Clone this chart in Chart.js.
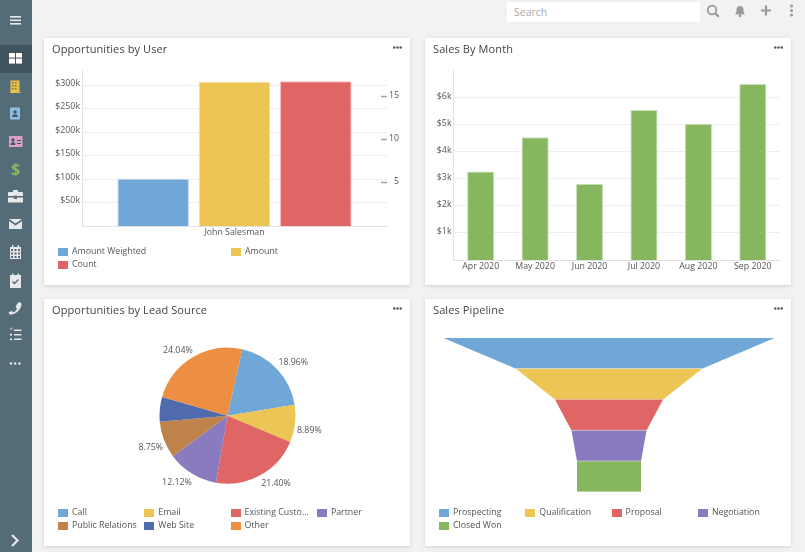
<!DOCTYPE html>
<html>
<head>
<meta charset="utf-8">
<title>Dashboard</title>
<script src="https://cdn.jsdelivr.net/npm/chart.js@4"></script>
<style>
  html, body { margin: 0; padding: 0; width: 805px; height: 552px; overflow: hidden; background: #f2f2f2; font-family: "Open Sans", sans-serif; }
  .sidebar { position: absolute; left: 0; top: 0; width: 32px; height: 552px; background: #546b78; }
  .sidebar svg, .topicons { position: absolute; left: 0; top: 0; }
  .search { position: absolute; left: 507px; top: 2px; width: 193px; height: 20px; background: #fff; color: #aaa; font-size: 10.5px; line-height: 20px; text-indent: 7px; }
  .card { position: absolute; width: 366px; height: 247px; background: #fff; box-shadow: 0 1px 4px rgba(0,0,0,.14); }
  .card canvas { position: absolute; left: 0; top: 0; }
  .card h3 { position: absolute; left: 8px; top: 2px; margin: 0; font-size: 11px; line-height: 18px; font-weight: 400; color: #444; letter-spacing: .1px; }
  .menu { position: absolute; right: 8px; top: 8px; }
  .legend { position: absolute; left: 14px; top: 207px; width: 346px; display: flex; flex-wrap: wrap; font-size: 8.8px; line-height: 13px; color: #555; }
  .legend span { display: block; box-sizing: border-box; padding-left: 14px; position: relative; white-space: nowrap; overflow: hidden; text-overflow: ellipsis; padding-right: 6px; }
  .legend i { position: absolute; left: 0; top: 3px; width: 10px; height: 8px; }
</style>
</head>
<body>
<div class="sidebar">
  <svg width="32" height="552" viewBox="0 0 32 552">
    <rect x="0" y="45" width="32" height="28" fill="#3f545e"/>
    <g fill="#e6e8e9">
      <rect x="10" y="16" width="11" height="1.6"/><rect x="10" y="19.5" width="11" height="1.6"/><rect x="10" y="23" width="11" height="1.6"/>
      <rect x="9" y="53" width="6" height="4.6" fill="#fff"/><rect x="16" y="53" width="6" height="4.6" fill="#fff"/><rect x="9" y="58.6" width="6" height="5" fill="#fff"/><rect x="16" y="58.6" width="6" height="5" fill="#fff"/>
      <path d="M9 192h4v-2h5v2h4a1 1 0 0 1 1 1v3H8v-3a1 1 0 0 1 1-1zM8 197.5h6v1.5h3v-1.5h6v5H8z"/>
      <path d="M9 219l6.500 4.500 6.500-4.500v0H9zM9 221l6.500 4.500 6.500-4.500v8H9z"/>
      <path d="M10 247h11v12H10zM12 245h1.500v3H12zM17.500 245h1.500v3h-1.500z"/>
      <path d="M10 275h11v13H10zM12 273.500h1.500v3H12zM17.500 273.500h1.500v3h-1.500z"/>
      <path d="M19 302c2 .5 2.600 1.200 2.500 2.500C21 310 15 315 10 314.500c-1 0-1.500-1.500-1-2.600l3-.9 1.500 1.500c1.500-.8 3-2.500 3.500-4l-1.300-1.500 1.300-3z"/>
      <rect x="14" y="329.500" width="7.500" height="1.500"/><rect x="14" y="334" width="7.500" height="1.500"/><rect x="14" y="338.500" width="7.500" height="1.500"/>
      <rect x="10" y="333.800" width="2" height="1.800"/><rect x="10" y="338.400" width="2" height="1.800"/>
      <circle cx="11" cy="363.500" r="1.300"/><circle cx="15.200" cy="363.500" r="1.300"/><circle cx="19.400" cy="363.500" r="1.300"/>
    </g>
    <path d="M10 328.500l1 1 1.800-2" stroke="#e6e8e9" stroke-width="1" fill="none"/>
    <path d="M12 535l5.500 5.500-5.500 5.500" stroke="#e6e8e9" stroke-width="2.200" fill="none"/>
    <g fill="#546b78">
      <rect x="11" y="249" width="2" height="2"/><rect x="14.500" y="249" width="2" height="2"/><rect x="18" y="249" width="2" height="2"/>
      <rect x="11" y="252.500" width="2" height="2"/><rect x="14.500" y="252.500" width="2" height="2"/><rect x="18" y="252.500" width="2" height="2"/>
      <rect x="11" y="256" width="2" height="2"/><rect x="14.500" y="256" width="2" height="2"/><rect x="18" y="256" width="2" height="2"/>
      <rect x="14" y="195.700" width="3" height="1.500" />
    </g>
    <path d="M12.500 281.500l2 2 4-4" stroke="#546b78" stroke-width="1.400" fill="none"/>
    <rect x="10.500" y="80.500" width="9" height="12" fill="#e7c14f"/><rect x="10" y="92" width="10.500" height="1" fill="#e7c14f"/>
    <g fill="#7d6a36"><rect x="12" y="82" width="1.500" height="1.500"/><rect x="15" y="82" width="1.500" height="1.500"/><rect x="12" y="85" width="1.500" height="1.500"/><rect x="15" y="85" width="1.500" height="1.500"/><rect x="12" y="88" width="1.500" height="1.500"/><rect x="15" y="88" width="1.500" height="1.500"/></g>
    <rect x="10" y="107.500" width="10" height="12" rx="1" fill="#8fbde0"/>
    <circle cx="15" cy="112" r="1.800" fill="#405866"/><path d="M12 117c0-2 1.500-2.700 3-2.700s3 .7 3 2.700z" fill="#405866"/>
    <rect x="9" y="136" width="13.500" height="11" fill="#dc9fc8"/>
    <circle cx="13" cy="140" r="1.700" fill="#405866"/><path d="M10.500 145c0-2 1.300-2.700 2.500-2.700s2.500 .7 2.500 2.700z" fill="#405866"/>
    <rect x="17" y="140" width="4" height="1" fill="#405866"/><rect x="17" y="143" width="4" height="1" fill="#405866"/>
    <text x="15.500" y="175" font-family="Open Sans" font-size="16" font-weight="700" text-anchor="middle" fill="#85b860">$</text>
  </svg>
</div>
<div class="search">Search</div>
<svg class="topicons" width="805" height="30" viewBox="0 0 805 30">
  <circle cx="712" cy="10" r="4.300" fill="none" stroke="#999" stroke-width="1.700"/>
  <path d="M715 13l3.700 3.700" stroke="#999" stroke-width="2.200"/>
  <path d="M735 14.500c1.500-1.500 1.500-3 1.500-5 0-2 1.500-3.500 3.500-3.500s3.500 1.500 3.500 3.500c0 2 0 3.500 1.500 5z" fill="#999"/>
  <circle cx="740" cy="15.800" r="1.400" fill="#999"/>
  <path d="M761 10.500h10M766 5.500v10" stroke="#999" stroke-width="2.200"/>
  <circle cx="791.500" cy="6" r="1.500" fill="#999"/><circle cx="791.500" cy="10.500" r="1.500" fill="#999"/><circle cx="791.500" cy="15" r="1.500" fill="#999"/>
</svg>

<div class="card" style="left:44px;top:38px">
  <canvas id="userChart" width="366" height="247"></canvas>
  <h3>Opportunities by User</h3>
  <svg class="menu" width="9" height="3"><circle cx="1.300" cy="1.500" r="1.200" fill="#555"/><circle cx="4.500" cy="1.500" r="1.200" fill="#555"/><circle cx="7.700" cy="1.500" r="1.200" fill="#555"/></svg>
  <div class="legend" id="userLegend" data-col="173"></div>
</div>
<div class="card" style="left:425px;top:38px">
  <canvas id="monthChart" width="366" height="247"></canvas>
  <h3>Sales By Month</h3>
  <svg class="menu" width="9" height="3"><circle cx="1.300" cy="1.500" r="1.200" fill="#555"/><circle cx="4.500" cy="1.500" r="1.200" fill="#555"/><circle cx="7.700" cy="1.500" r="1.200" fill="#555"/></svg>
</div>
<div class="card" style="left:44px;top:299px">
  <canvas id="sourceChart" width="366" height="247"></canvas>
  <h3>Opportunities by Lead Source</h3>
  <svg class="menu" width="9" height="3"><circle cx="1.300" cy="1.500" r="1.200" fill="#555"/><circle cx="4.500" cy="1.500" r="1.200" fill="#555"/><circle cx="7.700" cy="1.500" r="1.200" fill="#555"/></svg>
  <div class="legend" id="sourceLegend" data-col="86.3"></div>
</div>
<div class="card" style="left:425px;top:299px">
  <canvas id="pipelineChart" width="366" height="247"></canvas>
  <h3>Sales Pipeline</h3>
  <svg class="menu" width="9" height="3"><circle cx="1.300" cy="1.500" r="1.200" fill="#555"/><circle cx="4.500" cy="1.500" r="1.200" fill="#555"/><circle cx="7.700" cy="1.500" r="1.200" fill="#555"/></svg>
  <div class="legend" id="pipelineLegend" data-col="86.3"></div>
</div>

<script>
/* ================= DATA ================= */

const userLabels = ["John Salesman"];
const amountWeighted = [101000];
const amount = [308000];
const count = [16.8];
const amountTicks = [50000, 100000, 150000, 200000, 250000, 300000];
const countTicks = [5, 10, 15];

const months = ["Apr 2020", "May 2020", "Jun 2020", "Jul 2020", "Aug 2020", "Sep 2020"];
const monthSales = [3260, 4520, 2810, 5530, 5020, 6480];
const salesTicks = [1000, 2000, 3000, 4000, 5000, 6000];

const sources = ["Call", "Email", "Existing Customer", "Partner", "Public Relations", "Web Site", "Other"];
const sourceShare = [18.96, 8.89, 21.40, 12.12, 8.75, 5.84, 24.04];

const stages = ["Prospecting", "Qualification", "Proposal", "Negotiation", "Closed Won"];
const stageValues = [331000, 186000, 108000, 75000, 64000];

/* ================= COLOURS ================= */

const BLUE = "#6fa7d7", YELLOW = "#edc554", RED = "#e06666", PURPLE = "#8a7bc1";
const GREEN = "#86b75f", BROWN = "#bf8249", NAVY = "#4f6aad", ORANGE = "#ed8f42";
const GRID = "#eeeeee", AXIS = "#e2e2e2", TEXT = "#555555";

Chart.defaults.font.family = '"Open Sans", sans-serif';
Chart.defaults.font.size = 8.8;
Chart.defaults.color = TEXT;
Chart.defaults.animation = false;
Chart.defaults.responsive = false;
Chart.defaults.plugins.legend.display = false;
Chart.defaults.plugins.tooltip.enabled = false;

const money = v => `$${v / 1000}k`;

function fixedTicks(values) {
  return scale => { scale.ticks = values.map(value => ({ value })); };
}

function legend(id, labels, colors) {
  const box = document.getElementById(id);
  const col = box.dataset.col;
  labels.forEach((label, i) => {
    const item = document.createElement("span");
    item.style.width = col + "px";
    item.innerHTML = `<i style="background:${colors[i]}"></i>${label}`;
    box.appendChild(item);
  });
}

/* ================= OPPORTUNITIES BY USER ================= */

new Chart(document.getElementById("userChart"), {
  type: "bar",
  data: {
    labels: userLabels,
    datasets: [
      { label: "Amount Weighted", data: amountWeighted, backgroundColor: BLUE, borderColor: "#c3d9ee", borderWidth: 1, yAxisID: "y" },
      { label: "Amount", data: amount, backgroundColor: YELLOW, borderColor: "#f7e2a6", borderWidth: 1, yAxisID: "y" },
      { label: "Count", data: count, backgroundColor: RED, borderColor: "#f2b8b8", borderWidth: 1, yAxisID: "y2" },
    ],
  },
  options: {
    layout: { padding: { top: 32, right: 11 } },
    barPercentage: 0.88,
    categoryPercentage: 0.8,
    scales: {
      x: {
        grid: { display: false, drawTicks: false },
        border: { color: AXIS },
        ticks: { padding: 1.5 },
        afterFit: s => { s.height = 59; },
      },
      y: {
        min: 0, max: 333000,
        afterBuildTicks: fixedTicks(amountTicks),
        grid: { color: GRID, drawTicks: false },
        border: { color: AXIS },
        ticks: { autoSkip: false, padding: 2, labelOffset: -2, callback: money },
        afterFit: s => { s.width = 38; },
      },
      y2: {
        position: "right",
        min: 0, max: 18.1,
        afterBuildTicks: fixedTicks(countTicks),
        grid: { drawOnChartArea: false, color: "#a0a0a0", tickLength: -6, tickWidth: 1.5 },
        border: { display: false },
        /* far-aligned labels sit on the scale's right edge, so the width sets their x */
        ticks: { autoSkip: false, crossAlign: "far", labelOffset: -1 },
        afterFit: s => { s.width = 12; },
      },
    },
  },
});
legend("userLegend", ["Amount Weighted", "Amount", "Count"], [BLUE, YELLOW, RED]);

/* ================= SALES BY MONTH ================= */

new Chart(document.getElementById("monthChart"), {
  type: "bar",
  data: {
    labels: months,
    datasets: [{ data: monthSales, backgroundColor: GREEN, borderColor: "#cfe2c0", borderWidth: 1, barPercentage: 0.5, categoryPercentage: 1 }],
  },
  options: {
    layout: { padding: { top: 32, right: 11 } },
    scales: {
      x: {
        grid: { display: false, drawTicks: false },
        border: { color: AXIS },
        ticks: { padding: 1, autoSkip: false, maxRotation: 0 },
        afterFit: s => { s.height = 25; },
      },
      y: {
        min: 0, max: 7000,
        afterBuildTicks: fixedTicks(salesTicks),
        grid: { color: GRID, drawTicks: false },
        border: { color: AXIS },
        ticks: { autoSkip: false, padding: 2, labelOffset: -1, callback: money },
        afterFit: s => { s.width = 28.5; },
      },
    },
  },
});

/* ================= OPPORTUNITIES BY LEAD SOURCE ================= */

const sourceColors = [BLUE, YELLOW, RED, PURPLE, BROWN, NAVY, ORANGE];

const pieLabels = {
  id: "pieLabels",
  afterDatasetsDraw(chart) {
    const ctx = chart.ctx;
    ctx.save();
    ctx.font = '8.8px "Open Sans"';
    ctx.fillStyle = TEXT;
    chart.getDatasetMeta(0).data.forEach((arc, i) => {
      if (sourceShare[i] < 6) return;
      const mid = (arc.startAngle + arc.endAngle) / 2;
      const dx = Math.cos(mid), dy = Math.sin(mid);
      const r = arc.outerRadius + 2;
      ctx.textAlign = dx > 0 ? "left" : "right";
      ctx.textBaseline = dy > 0 ? "top" : "bottom";
      ctx.fillText(sourceShare[i].toFixed(2) + "%", arc.x + dx * r + (dx > 0 ? 0 : 1), arc.y + dy * r + (dy > 0 ? 2.5 : -0.5));
    });
    ctx.restore();
  },
};

new Chart(document.getElementById("sourceChart"), {
  type: "pie",
  data: {
    labels: sources,
    datasets: [{ data: sourceShare, backgroundColor: sourceColors, borderWidth: 0 }],
  },
  options: {
    radius: 68,
    rotation: 12.5,
    layout: { padding: { top: 0, bottom: 247 - 2 * 116.7, left: 1, right: 0 } },
  },
  plugins: [pieLabels],
});
legend("sourceLegend", ["Call", "Email", "Existing Customer", "Partner", "Public Relations", "Web Site", "Other"], sourceColors);

/* ================= SALES PIPELINE ================= */

const stageColors = [BLUE, YELLOW, RED, PURPLE, GREEN];

/* Chart.js has no funnel: each bar gets redrawn as a trapezoid narrowing to the next stage */
const funnelShape = {
  id: "funnelShape",
  afterDatasetsDraw(chart) {
    const ctx = chart.ctx;
    const x = chart.scales.x;
    chart.getDatasetMeta(0).data.forEach((bar, i) => {
      const next = stageValues[Math.min(i + 1, stageValues.length - 1)];
      const top = bar.y - bar.height / 2, bottom = bar.y + bar.height / 2;
      ctx.beginPath();
      ctx.moveTo(x.getPixelForValue(-stageValues[i] / 2), top);
      ctx.lineTo(x.getPixelForValue(stageValues[i] / 2), top);
      ctx.lineTo(x.getPixelForValue(next / 2), bottom);
      ctx.lineTo(x.getPixelForValue(-next / 2), bottom);
      ctx.closePath();
      ctx.fillStyle = stageColors[i];
      ctx.fill();
      /* light seam between stages, only the horizontal edges */
      ctx.beginPath();
      ctx.moveTo(x.getPixelForValue(-next / 2), bottom);
      ctx.lineTo(x.getPixelForValue(next / 2), bottom);
      ctx.strokeStyle = "rgba(255,255,255,0.7)";
      ctx.lineWidth = 1;
      ctx.stroke();
    });
  },
};

new Chart(document.getElementById("pipelineChart"), {
  type: "bar",
  data: {
    labels: stages,
    datasets: [{
      data: stageValues.map(v => [-v / 2, v / 2]),
      backgroundColor: "rgba(0,0,0,0)",
      barPercentage: 1,
      categoryPercentage: 1,
    }],
  },
  options: {
    indexAxis: "y",
    layout: { padding: { left: 18, right: 16, top: 39, bottom: 54 } },
    scales: {
      x: { display: false, min: -166000, max: 166000 },
      y: { display: false },
    },
  },
  plugins: [funnelShape],
});
legend("pipelineLegend", stages, stageColors);
</script>
</body>
</html>
